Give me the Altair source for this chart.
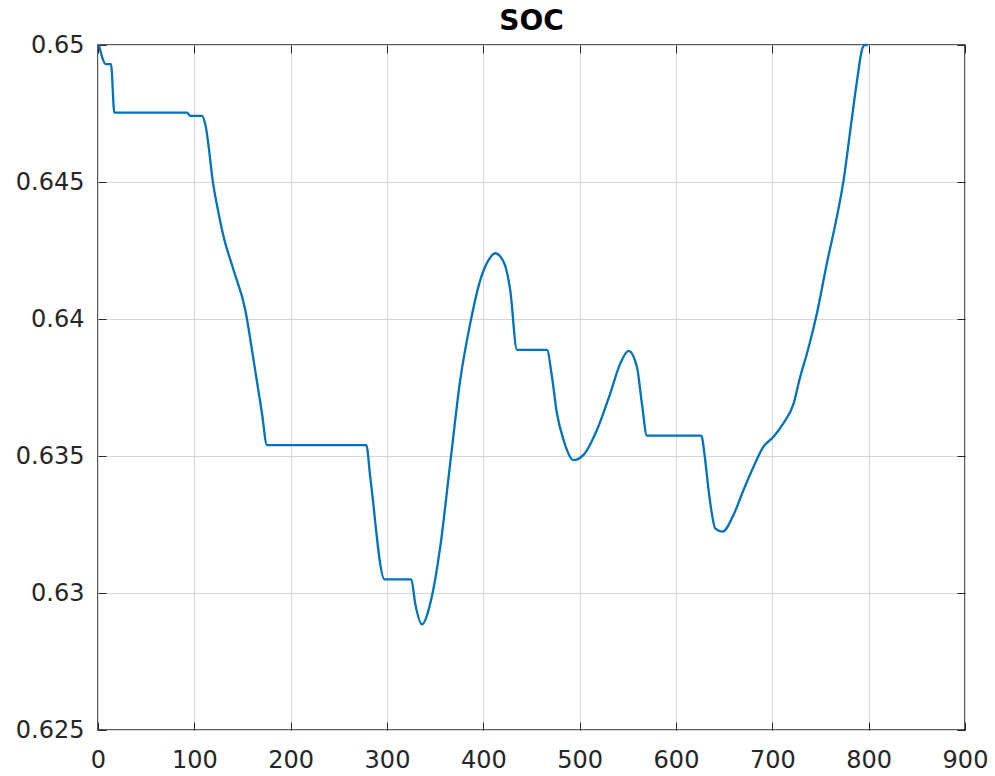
import altair as alt
import pandas as pd

time_s = [1, 8.3, 13.5, 17, 92.4, 95.8, 108, 111.4, 120, 124.5, 130.4, 140.7,
          152.9, 161.5, 170.2, 175.4, 278.5, 282.6, 297.5, 325.2, 329.3, 336.3,
          344.9, 355.3, 365.6, 376, 386.4, 396.8, 405.4, 412.3, 421, 427.9,
          434.9, 466, 471.2, 476.4, 483.3, 493.6, 504, 517.9, 531.8, 542.2,
          550.7, 559.4, 564.6, 569.8, 626.2, 630.3, 633.8, 637.2, 640.7, 648.3,
          659.7, 670.1, 680.5, 690.8, 701.2, 711.6, 722, 729, 736, 746.3,
          756.6, 767, 774, 781, 788, 793, 796, 799]
soc = [0.6500, 0.6493, 0.6493, 0.64753, 0.64753, 0.64741, 0.64741, 0.6471,
       0.64483, 0.64398, 0.6430, 0.64179, 0.64033, 0.6385, 0.63656, 0.6354,
       0.6354, 0.63424, 0.6305, 0.6305, 0.62962, 0.62886, 0.62962, 0.63169,
       0.63473, 0.63777, 0.63984, 0.64142, 0.64215, 0.64240, 0.64209, 0.64106,
       0.63887, 0.63887, 0.6379, 0.63656, 0.63558, 0.63485, 0.63504, 0.63595,
       0.63729, 0.63838, 0.63884, 0.63826, 0.63692, 0.63574, 0.63574, 0.63485,
       0.63376, 0.6329, 0.63236, 0.63224, 0.63285, 0.63376, 0.63461, 0.63534,
       0.6357, 0.6362, 0.6369, 0.6379, 0.63875, 0.64021, 0.64203, 0.64373,
       0.64507, 0.6469, 0.64872, 0.64982, 0.6500, 0.6500]

x_ticks = [0, 100, 200, 300, 400, 500, 600, 700, 800, 900]
y_ticks = [0.625, 0.63, 0.635, 0.64, 0.645, 0.65]

df = pd.DataFrame({"t": time_s, "soc": soc})

FONT = "DejaVu Sans"
AX = "#262626"
GRID = "#d6d6d6"

x_scale = alt.Scale(domain=[0, 900], nice=False, zero=False)
y_scale = alt.Scale(domain=[0.625, 0.65], nice=False, zero=False)

common = dict(title=None, domain=False, tickSize=8, offset=-8, tickColor=AX,
              tickWidth=1, labelFont=FONT, labelFontSize=24, labelColor=AX)

line = alt.Chart(df).mark_line(color="#0072BD", strokeWidth=2.3,
                               interpolate="monotone").encode(
    x=alt.X("t:Q", scale=x_scale,
            axis=alt.Axis(values=x_ticks, orient="bottom", grid=True,
                          gridColor=GRID, gridWidth=1, labelPadding=18,
                          labelFlush=False, **common)),
    y=alt.Y("soc:Q", scale=y_scale,
            axis=alt.Axis(values=y_ticks, orient="left", grid=True,
                          gridColor=GRID, gridWidth=1, labelPadding=14,
                          format=".3~f", labelFlush=False, **common)),
)

frame = alt.Chart(df).mark_line(opacity=0).encode(
    x=alt.X("t:Q", scale=x_scale,
            axis=alt.Axis(values=x_ticks, orient="top", grid=False,
                          labels=False, **common)),
    y=alt.Y("soc:Q", scale=y_scale,
            axis=alt.Axis(values=y_ticks, orient="right", grid=False,
                          labels=False, **common)),
)

chart = alt.layer(line, frame).resolve_axis(
    x="independent", y="independent"
).properties(
    width=867,
    height=685,
    title=alt.TitleParams("SOC", font=FONT, fontSize=28, fontWeight="bold",
                          color="#000000", anchor="middle", frame="group",
                          baseline="alphabetic", offset=-25),
    padding={"left": 98, "top": 45, "right": 30, "bottom": 46},
    autosize=alt.AutoSizeParams(type="none"),
).configure_view(stroke=AX, strokeWidth=1.5)

chart.save("out.html", embed_options={"renderer": "svg", "actions": False})
